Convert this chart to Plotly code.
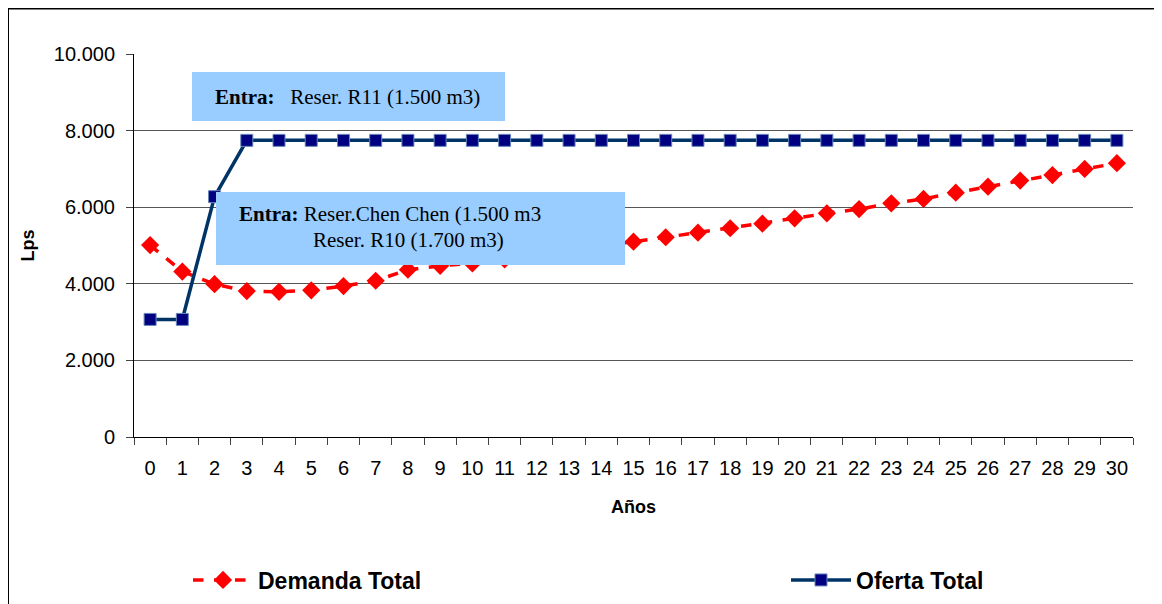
import plotly.graph_objects as go

years = [str(i) for i in range(31)]
demanda_total = [5010, 4320, 3990, 3810, 3790, 3830, 3940, 4080, 4370, 4470, 4530,
                 4640, 4750, 4870, 4990, 5100, 5215, 5335, 5450, 5570, 5710,
                 5840, 5950, 6100, 6215, 6380, 6535, 6695, 6840, 7000, 7150]
oferta_total = [3070, 3070, 6275] + [7745] * 28
y_ticks = [0, 2000, 4000, 6000, 8000, 10000]
y_tick_labels = ["0", "2.000", "4.000", "6.000", "8.000", "10.000"]

OFF = 8  # page body margin
W, H = 1162 - 2 * OFF, 604 - OFF
L, R, T, B = 134, 1133, 54, 437  # plot area in screen pixels


def px(x):
    return (x - L) / (R - L)


def py(y):
    return (B - y) / (B - T)


fig = go.Figure()
fig.add_trace(go.Scatter(
    x=years, y=demanda_total, name="Demanda Total", mode="lines+markers",
    line=dict(color="#FF0000", width=3.5, dash="dash"),
    marker=dict(symbol="diamond", size=14, color="#FF0000", line=dict(width=0)),
    legend="legend",
))
fig.add_trace(go.Scatter(
    x=years, y=oferta_total, name="Oferta Total", mode="lines+markers",
    line=dict(color="#003366", width=3.5),
    marker=dict(symbol="square", size=12, color="#000080", line=dict(width=1, color="#6688BB")),
    legend="legend2",
))

shapes = [
    # outer chart border: left and top edges (right/bottom cropped in the reference)
    dict(type="line", xref="paper", yref="paper", x0=px(8), x1=px(8), y0=py(640), y1=py(8.5),
         line=dict(color="black", width=2), layer="below"),
    dict(type="line", xref="paper", yref="paper", x0=px(8), x1=px(1200), y0=py(8.5), y1=py(8.5),
         line=dict(color="black", width=2), layer="below"),
    # annotation boxes
    dict(type="rect", xref="paper", yref="paper", x0=px(192), x1=px(505), y0=py(121), y1=py(72),
         line=dict(width=0), fillcolor="#99CCFF", layer="above"),
    dict(type="rect", xref="paper", yref="paper", x0=px(216), x1=px(625), y0=py(265), y1=py(192),
         line=dict(width=0), fillcolor="#99CCFF", layer="above"),
]

serif = "Liberation Serif, Times New Roman, serif"
ann_font = dict(family=serif, size=21, color="black")
annotations = [
    dict(xref="paper", yref="paper", x=px(347), y=py(97), showarrow=False, xanchor="center", yanchor="middle",
         text="<b>Entra:</b>   Reser. R11 (1.500 m3)", font=ann_font),
    dict(xref="paper", yref="paper", x=px(390), y=py(214), showarrow=False, xanchor="center", yanchor="middle",
         text="<b>Entra:</b> Reser.Chen Chen (1.500 m3", font=ann_font),
    dict(xref="paper", yref="paper", x=px(408), y=py(240), showarrow=False, xanchor="center", yanchor="middle",
         text="Reser. R10 (1.700 m3)", font=ann_font),
]

legend_font = dict(family="Liberation Sans, Arial, sans-serif", size=23, color="black", weight="bold")

fig.update_layout(
    width=W, height=H,
    margin=dict(l=L - OFF, r=W - (R - OFF), t=T - OFF, b=H - (B - OFF), pad=0, autoexpand=False),
    paper_bgcolor="white", plot_bgcolor="white",
    font=dict(family="Liberation Sans, Arial, sans-serif", color="black"),
    shapes=shapes, annotations=annotations,
    showlegend=True,
    legend=dict(orientation="h", x=px(188), y=py(580), xanchor="left", yanchor="middle",
                font=legend_font, itemwidth=60, bgcolor="rgba(0,0,0,0)"),
    legend2=dict(orientation="h", x=px(786), y=py(580), xanchor="left", yanchor="middle",
                 font=legend_font, itemwidth=60, bgcolor="rgba(0,0,0,0)"),
    xaxis=dict(
        type="category", range=[-0.5, 30.5],
        showgrid=False, showline=True, linecolor="black", linewidth=1,
        ticks="outside", tickson="boundaries", ticklen=7, tickcolor="#444", tickwidth=1,
        tickfont=dict(size=20), zeroline=False, ticklabelstandoff=13,
        title=dict(text="<b>Años</b>", font=dict(size=18), standoff=22),
    ),
    yaxis=dict(
        range=[0, 10000], tickvals=y_ticks, ticktext=y_tick_labels,
        showgrid=True, gridcolor="#555", gridwidth=1,
        showline=True, linecolor="black", linewidth=1,
        ticks="outside", ticklen=7, tickcolor="#444",
        tickfont=dict(size=20), zeroline=False, ticklabelstandoff=7,
        title=dict(text="<b>Lps</b>", font=dict(size=18), standoff=14),
    ),
)

fig.write_html("out.html")
